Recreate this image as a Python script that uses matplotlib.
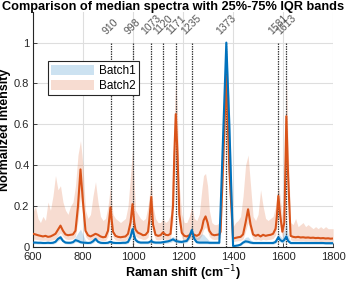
import matplotlib
matplotlib.use("Agg")
import matplotlib.pyplot as plt

plt.rcParams['font.family'] = ['Liberation Sans', 'DejaVu Sans']

# ---------------- data ----------------
wavenumber = [
    600, 610, 620, 630, 640, 650, 660, 670, 680, 690,
    700, 710, 720, 730, 740, 750, 760, 770, 780, 790,
    800, 810, 820, 830, 840, 850, 860, 870, 880, 890,
    900, 905, 910, 915, 920, 930, 940, 950, 960, 970,
    980, 990, 998, 1005, 1010, 1020, 1030, 1040, 1050, 1060,
    1065, 1073, 1080, 1090, 1100, 1110, 1120, 1130, 1140, 1150,
    1160, 1165, 1171, 1178, 1185, 1195, 1205, 1215, 1225, 1235,
    1245, 1255, 1265, 1275, 1282, 1290, 1298, 1305, 1315, 1325,
    1335, 1345, 1350, 1373, 1385, 1400, 1410, 1420, 1430, 1440,
    1450, 1460, 1470, 1480, 1490, 1500, 1510, 1520, 1530, 1540,
    1550, 1560, 1570, 1575, 1581, 1588, 1597, 1605, 1613, 1620,
    1630, 1640, 1650, 1660, 1670, 1680, 1690, 1700, 1710, 1720,
    1730, 1740, 1750, 1760, 1770, 1780, 1790, 1800,
]

batch2_median = [
    0.065, 0.062, 0.058, 0.055, 0.052, 0.055, 0.050, 0.052, 0.058, 0.065,
    0.085, 0.105, 0.080, 0.062, 0.058, 0.060, 0.062, 0.080, 0.200, 0.380,
    0.220, 0.080, 0.058, 0.052, 0.058, 0.065, 0.060, 0.052, 0.048, 0.050,
    0.080, 0.140, 0.195, 0.130, 0.075, 0.055, 0.050, 0.048, 0.050, 0.052,
    0.065, 0.120, 0.210, 0.120, 0.085, 0.070, 0.065, 0.058, 0.060, 0.075,
    0.130, 0.245, 0.110, 0.060, 0.055, 0.058, 0.072, 0.060, 0.058, 0.065,
    0.200, 0.450, 0.650, 0.450, 0.160, 0.070, 0.055, 0.052, 0.058, 0.068,
    0.060, 0.055, 0.062, 0.090, 0.130, 0.150, 0.120, 0.080, 0.062, 0.058,
    0.060, 0.062, 0.075, 0.840, 0.380, 0.042, 0.045, 0.048, 0.050, 0.062,
    0.120, 0.185, 0.110, 0.062, 0.055, 0.060, 0.052, 0.060, 0.055, 0.058,
    0.060, 0.065, 0.090, 0.150, 0.250, 0.160, 0.075, 0.120, 0.640, 0.350,
    0.055, 0.050, 0.048, 0.050, 0.047, 0.048, 0.046, 0.047, 0.045, 0.046,
    0.044, 0.045, 0.043, 0.044, 0.042, 0.043, 0.041, 0.042,
]

batch2_q25 = [
    0.040, 0.038, 0.036, 0.034, 0.033, 0.034, 0.032, 0.033, 0.036, 0.040,
    0.055, 0.070, 0.052, 0.040, 0.037, 0.038, 0.040, 0.052, 0.130, 0.250,
    0.140, 0.052, 0.037, 0.033, 0.037, 0.042, 0.038, 0.033, 0.031, 0.032,
    0.052, 0.090, 0.130, 0.085, 0.048, 0.035, 0.032, 0.031, 0.032, 0.033,
    0.042, 0.078, 0.140, 0.078, 0.055, 0.045, 0.042, 0.037, 0.038, 0.048,
    0.085, 0.160, 0.072, 0.038, 0.035, 0.037, 0.046, 0.038, 0.037, 0.042,
    0.130, 0.300, 0.440, 0.300, 0.105, 0.045, 0.035, 0.033, 0.037, 0.044,
    0.038, 0.035, 0.040, 0.058, 0.085, 0.098, 0.078, 0.052, 0.040, 0.037,
    0.038, 0.040, 0.048, 0.640, 0.260, 0.027, 0.029, 0.031, 0.032, 0.040,
    0.078, 0.120, 0.072, 0.040, 0.035, 0.038, 0.033, 0.038, 0.035, 0.037,
    0.038, 0.042, 0.058, 0.098, 0.165, 0.105, 0.048, 0.078, 0.450, 0.230,
    0.035, 0.032, 0.031, 0.032, 0.030, 0.031, 0.029, 0.030, 0.029, 0.029,
    0.028, 0.029, 0.027, 0.028, 0.027, 0.027, 0.026, 0.027,
]

batch2_q75 = [
    0.170, 0.200, 0.140, 0.120, 0.150, 0.130, 0.220, 0.180, 0.250, 0.350,
    0.280, 0.300, 0.220, 0.180, 0.160, 0.200, 0.220, 0.300, 0.450, 0.520,
    0.400, 0.180, 0.140, 0.160, 0.250, 0.320, 0.220, 0.150, 0.130, 0.140,
    0.200, 0.250, 0.300, 0.220, 0.160, 0.140, 0.130, 0.120, 0.130, 0.140,
    0.200, 0.350, 0.480, 0.300, 0.180, 0.160, 0.140, 0.130, 0.140, 0.200,
    0.250, 0.320, 0.200, 0.140, 0.120, 0.120, 0.140, 0.120, 0.130, 0.160,
    0.400, 0.650, 0.820, 0.650, 0.300, 0.160, 0.120, 0.120, 0.150, 0.200,
    0.140, 0.130, 0.160, 0.280, 0.350, 0.360, 0.300, 0.180, 0.120, 0.110,
    0.110, 0.120, 0.150, 1.000, 0.550, 0.100, 0.120, 0.130, 0.150, 0.250,
    0.400, 0.450, 0.300, 0.150, 0.130, 0.160, 0.280, 0.200, 0.140, 0.130,
    0.140, 0.150, 0.200, 0.250, 0.300, 0.250, 0.150, 0.300, 0.850, 0.500,
    0.120, 0.110, 0.140, 0.100, 0.110, 0.120, 0.100, 0.110, 0.100, 0.090,
    0.100, 0.090, 0.100, 0.090, 0.100, 0.090, 0.090, 0.090,
]

batch1_median = [
    0.022, 0.022, 0.021, 0.021, 0.020, 0.020, 0.021, 0.020, 0.021, 0.026,
    0.040, 0.048, 0.030, 0.022, 0.021, 0.021, 0.024, 0.034, 0.030, 0.024,
    0.022, 0.021, 0.020, 0.021, 0.028, 0.040, 0.026, 0.021, 0.020, 0.020,
    0.021, 0.024, 0.026, 0.023, 0.021, 0.020, 0.020, 0.020, 0.021, 0.021,
    0.025, 0.050, 0.088, 0.055, 0.035, 0.025, 0.022, 0.022, 0.022, 0.022,
    0.024, 0.030, 0.024, 0.022, 0.022, 0.022, 0.024, 0.026, 0.028, 0.032,
    0.038, 0.034, 0.030, 0.028, 0.026, 0.025, 0.028, 0.030, 0.050, 0.083,
    0.040, 0.024, 0.022, 0.022, 0.022, 0.022, 0.022, 0.021, 0.021, 0.021,
    0.021, 0.021, 0.180, 1.000, 0.600, 0.005, 0.006, 0.008, 0.012, 0.022,
    0.028, 0.026, 0.022, 0.020, 0.020, 0.020, 0.020, 0.020, 0.020, 0.020,
    0.020, 0.020, 0.025, 0.035, 0.048, 0.035, 0.028, 0.035, 0.052, 0.030,
    0.020, 0.020, 0.020, 0.020, 0.020, 0.020, 0.020, 0.020, 0.020, 0.020,
    0.020, 0.020, 0.020, 0.020, 0.019, 0.019, 0.019, 0.019,
]

batch1_q25 = [
    0.016, 0.016, 0.015, 0.015, 0.015, 0.015, 0.015, 0.015, 0.015, 0.019,
    0.030, 0.036, 0.022, 0.016, 0.015, 0.015, 0.017, 0.025, 0.022, 0.017,
    0.016, 0.015, 0.015, 0.015, 0.020, 0.030, 0.019, 0.015, 0.015, 0.015,
    0.015, 0.017, 0.019, 0.017, 0.015, 0.015, 0.015, 0.015, 0.015, 0.015,
    0.018, 0.037, 0.066, 0.040, 0.025, 0.018, 0.016, 0.016, 0.016, 0.016,
    0.017, 0.022, 0.017, 0.016, 0.016, 0.016, 0.017, 0.019, 0.020, 0.023,
    0.028, 0.025, 0.022, 0.020, 0.019, 0.018, 0.020, 0.022, 0.037, 0.062,
    0.029, 0.017, 0.016, 0.016, 0.016, 0.016, 0.016, 0.015, 0.015, 0.015,
    0.015, 0.015, 0.130, 0.920, 0.480, 0.003, 0.004, 0.005, 0.008, 0.016,
    0.020, 0.019, 0.016, 0.014, 0.014, 0.014, 0.014, 0.014, 0.014, 0.014,
    0.014, 0.014, 0.018, 0.025, 0.036, 0.025, 0.020, 0.025, 0.038, 0.022,
    0.014, 0.014, 0.014, 0.014, 0.014, 0.014, 0.014, 0.014, 0.014, 0.014,
    0.014, 0.014, 0.014, 0.014, 0.013, 0.013, 0.013, 0.013,
]

batch1_q75 = [
    0.030, 0.030, 0.029, 0.029, 0.028, 0.028, 0.029, 0.028, 0.030, 0.036,
    0.052, 0.060, 0.040, 0.030, 0.029, 0.029, 0.034, 0.050, 0.070, 0.088,
    0.060, 0.032, 0.028, 0.030, 0.040, 0.052, 0.036, 0.029, 0.028, 0.028,
    0.030, 0.034, 0.036, 0.032, 0.029, 0.028, 0.028, 0.028, 0.029, 0.030,
    0.036, 0.070, 0.115, 0.075, 0.048, 0.035, 0.030, 0.030, 0.030, 0.030,
    0.034, 0.042, 0.034, 0.030, 0.030, 0.030, 0.034, 0.036, 0.038, 0.045,
    0.052, 0.048, 0.042, 0.040, 0.036, 0.035, 0.040, 0.045, 0.075, 0.110,
    0.060, 0.045, 0.055, 0.065, 0.062, 0.050, 0.040, 0.030, 0.029, 0.029,
    0.029, 0.030, 0.230, 1.000, 0.700, 0.012, 0.014, 0.016, 0.022, 0.035,
    0.048, 0.050, 0.035, 0.028, 0.028, 0.028, 0.028, 0.028, 0.028, 0.028,
    0.028, 0.030, 0.040, 0.055, 0.070, 0.055, 0.045, 0.080, 0.140, 0.060,
    0.028, 0.028, 0.028, 0.028, 0.028, 0.028, 0.028, 0.028, 0.028, 0.028,
    0.028, 0.028, 0.028, 0.027, 0.027, 0.027, 0.027, 0.027,
]

peak_positions = [910, 998, 1073, 1120, 1171, 1235, 1373, 1581, 1613]
series_names = ["Batch1", "Batch2"]

# ---------------- styling ----------------
c_blue = "#0072BD"
c_orange = "#D95319"

fig = plt.figure(figsize=(3.47, 2.84), dpi=100)
ax = fig.add_axes([0.095, 0.130, 0.865, 0.828])

h1 = ax.fill_between(wavenumber, batch1_q25, batch1_q75, color=c_blue,
                     alpha=0.2, linewidth=0, label=series_names[0], zorder=2)
h2 = ax.fill_between(wavenumber, batch2_q25, batch2_q75, color=c_orange,
                     alpha=0.2, linewidth=0, label=series_names[1], zorder=2)
ax.plot(wavenumber, batch2_median, color=c_orange, lw=1.5, zorder=4)
ax.plot(wavenumber, batch1_median, color=c_blue, lw=1.5, zorder=5)

for p in peak_positions:
    ax.plot([p, p], [0, 1], color="#3a3a3a", lw=0.9, ls=(0, (1.2, 0.8)),
            zorder=3)
    ax.text(p, 1.03, str(p), rotation=45, ha="center", va="bottom",
            fontsize=7.5, color="#555555")

ax.set_xlim(600, 1800)
ax.set_ylim(0, 1.15)
ax.set_xticks([600, 800, 1000, 1200, 1400, 1600, 1800])
ax.set_yticks([0, 0.2, 0.4, 0.6, 0.8, 1])
ax.set_yticklabels(["0", "0.2", "0.4", "0.6", "0.8", "1"])
ax.grid(True, color="#dedede", lw=0.8, zorder=0)
ax.set_axisbelow(True)
for s in ["top", "right"]:
    ax.spines[s].set_visible(False)
for s in ["left", "bottom"]:
    ax.spines[s].set_color("#262626")
    ax.spines[s].set_linewidth(0.8)
ax.tick_params(direction="in", length=3, width=0.6, labelsize=8,
               colors="#262626")
ax.tick_params(axis="x", pad=3.5)
ax.tick_params(axis="y", pad=2.5)

ax.set_xlabel("Raman shift (cm$^{-1}$)", fontsize=9, fontweight="bold",
              labelpad=1)
ax.set_ylabel("Normalized Intensity", fontsize=9, fontweight="bold",
              labelpad=2)
fig.text(0.5, 0.998, "Comparison of median spectra with 25%-75% IQR bands",
         ha="center", va="top", fontsize=9.2, fontweight="bold")

leg = ax.legend(handles=[h1, h2], loc="upper left",
                bbox_to_anchor=(0.03, 0.815), fontsize=8.5, frameon=True,
                fancybox=False, framealpha=1, edgecolor="#262626",
                handlelength=3.6, handleheight=0.9, borderpad=0.3,
                labelspacing=0.25, handletextpad=0.4)
leg.get_frame().set_linewidth(0.8)

fig.savefig("out.png", dpi=100)
